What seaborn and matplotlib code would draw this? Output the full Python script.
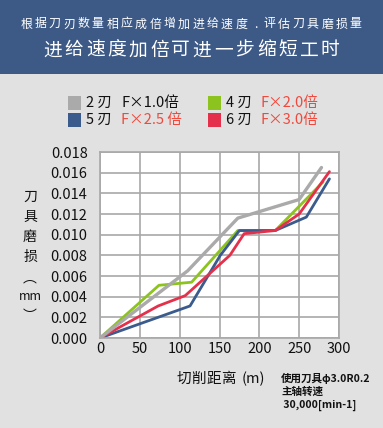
import pandas as pd
import numpy as np
import matplotlib
matplotlib.use('Agg')
import matplotlib.pyplot as plt
import seaborn as sns
from matplotlib.patches import Rectangle

# values
dist_2 = [0, 110, 173, 250, 278]
wear_2 = [0.0, 0.0065, 0.0116, 0.0134, 0.0165]
dist_4 = [0, 74, 115, 173, 220, 280]
wear_4 = [0.0, 0.0051, 0.0054, 0.0104, 0.0104, 0.0151]
dist_5 = [0, 113, 151, 175, 220, 259, 288]
wear_5 = [0.0, 0.0031, 0.0080, 0.0104, 0.0104, 0.0117, 0.0154]
dist_6 = [0, 73, 107, 163, 181, 220, 250, 288]
wear_6 = [0.0, 0.0031, 0.0041, 0.0080, 0.0101, 0.0104, 0.0120, 0.0161]

series_names = ['2 刃', '4 刃', '5 刃', '6 刃']
feed_labels = ['F×1.0倍', 'F×2.0倍', 'F×2.5 倍', 'F×3.0倍']
colors = ['#aaaaaa', '#8cc31e', '#3b5b8d', '#e5304b']
x_ticks = [0, 50, 100, 150, 200, 250, 300]
y_ticks = [0.000, 0.002, 0.004, 0.006, 0.008, 0.010, 0.012, 0.014, 0.016, 0.018]

title_1 = '根据刀刃数量相应成倍增加进给速度. 评估刀具磨损量'
title_2 = '进给速度加倍可进一步缩短工时'
y_label_chars = ['刀', '具', '磨', '损', '︵', 'mm', '︶']
note = '使用刀具φ3.0R0.2\n主轴转速\n 30,000[min-1]'

# build long table for seaborn
frames = []
for name, d, w in zip(series_names, [dist_2, dist_4, dist_5, dist_6],
                      [wear_2, wear_4, wear_5, wear_6]):
    frames.append(pd.DataFrame({'dist': d, 'wear': w, 'blade': name}))
df = pd.concat(frames, ignore_index=True)

sns.set_style('white')
plt.rcParams['font.family'] = ['Noto Sans CJK SC', 'DejaVu Sans']

bg = '#e1e1e1'
header = '#3d5a87'
accent = '#f0493c'
W, H = 383, 428


def spaced_text(fig, text, x0, x1, y, **kw):
    # spread characters evenly between x0 and x1 (pixels) to mimic letter spacing
    n = len(text)
    step = (x1 - x0) / n
    for i, ch in enumerate(text):
        if ch == ' ':
            continue
        fig.text((x0 + step * (i + 0.5)) / W, 1 - y / H, ch, ha='center', va='center', **kw)


fig = plt.figure(figsize=(3.83, 4.28), dpi=100, facecolor=bg)

# header band
fig.patches.append(Rectangle((0, 1 - 74 / H), 1, 74 / H, transform=fig.transFigure,
                             facecolor=header, edgecolor='none', zorder=0))
spaced_text(fig, title_1.replace(' ', ''), 19, 363, 24, color='white', fontsize=8.6)
spaced_text(fig, title_2, 42, 341, 50, color='white', fontsize=13.5)

# legend drawn by hand to get the 2x2 layout
leg_pos = [(68, 103), (208, 103), (68, 120), (208, 120)]
for (px, py), name, feed, c in zip(leg_pos, series_names, feed_labels, colors):
    fig.patches.append(Rectangle((px / W, 1 - (py + 6.5) / H), 13 / W, 13 / H,
                                 transform=fig.transFigure, facecolor=c, edgecolor='none'))
    fig.text((px + 18) / W, 1 - py / H, name, fontsize=10.5, va='center', color='#111111')
    fcol = '#111111' if feed == 'F×1.0倍' else accent
    fig.text((px + 53) / W, 1 - py / H, feed, fontsize=10.5, va='center', color=fcol)

ax = fig.add_axes([100 / W, 1 - 338 / H, 239 / W, 186 / H])
ax.set_facecolor('white')
sns.lineplot(data=df, x='dist', y='wear', hue='blade', hue_order=series_names,
             palette=colors, linewidth=2, legend=False, sort=False, ax=ax,
             estimator=None)
# gray line sits on top in the reference
for line in ax.get_lines():
    if matplotlib.colors.to_hex(line.get_color()) == '#aaaaaa':
        line.set_zorder(5)
        line.set_linewidth(2.4)

ax.set_xlim(0, 300)
ax.set_ylim(0, 0.018)
ax.set_xticks(x_ticks)
ax.set_yticks(y_ticks)
ax.set_yticklabels(['%.3f' % v for v in y_ticks])
ax.grid(True, color='#a8a8a8', linewidth=1.2)
ax.set_axisbelow(True)
for s in ax.spines.values():
    s.set_color('#a8a8a8')
    s.set_linewidth(1.2)
ax.tick_params(axis='y', length=0, labelsize=10.5, colors='#111111', pad=9)
ax.tick_params(axis='x', length=0, labelsize=10.5, colors='#111111', pad=3)
ax.set_xlabel('')
ax.set_ylabel('')

spaced_text(fig, '切削距离', 176, 236, 379, fontsize=10.5, color='#111111')
fig.text(253 / W, 1 - 379 / H, '(m)', fontsize=10.5, ha='center', va='center', color='#111111')

y_label_pos = [197, 217, 237, 257, 278, 296, 316]
for ch, py in zip(y_label_chars, y_label_pos):
    fig.text(30 / W, 1 - py / H, ch, fontsize=9 if ch == 'mm' else 10, ha='center',
             va='center', color='#111111')

fig.text(281 / W, 1 - 373 / H, note, fontsize=7.6, fontweight='bold', ha='left', va='top',
         linespacing=1.3, color='#111111')

fig.savefig('out.png', dpi=100, facecolor=bg)
